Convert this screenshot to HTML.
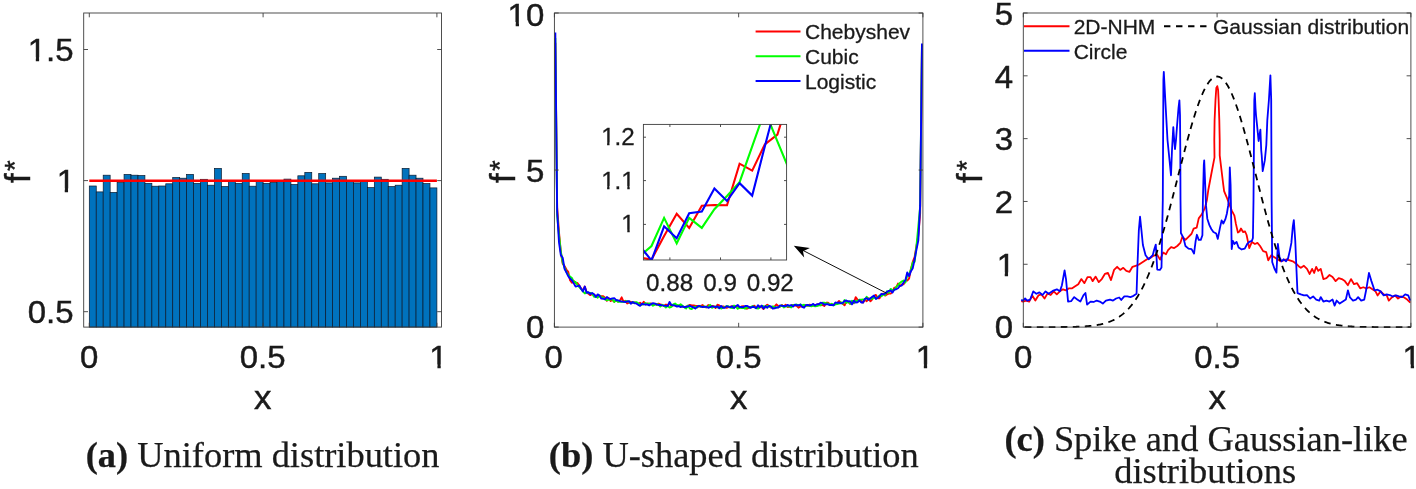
<!DOCTYPE html>
<html><head><meta charset="utf-8"><title>Distributions</title>
<style>html,body{margin:0;padding:0;background:#fff;}svg{display:block;will-change:transform;}text{font-kerning:normal;}</style>
</head><body>
<svg width="1416" height="489" viewBox="0 0 1416 489">
<rect x="0" y="0" width="1416" height="489" fill="#ffffff"/>
<g fill="#0072bd" stroke="#0a1a2e" stroke-width="0.7" stroke-linejoin="miter">
<rect x="89.3" y="186" width="6.95" height="141.1"/>
<rect x="96.25" y="191.9" width="6.95" height="135.2"/>
<rect x="103.2" y="175.2" width="6.95" height="151.9"/>
<rect x="110.16" y="192.4" width="6.95" height="134.7"/>
<rect x="117.11" y="182.6" width="6.95" height="144.5"/>
<rect x="124.06" y="174.4" width="6.95" height="152.7"/>
<rect x="131.01" y="175.2" width="6.95" height="151.9"/>
<rect x="137.96" y="175.5" width="6.95" height="151.6"/>
<rect x="144.92" y="183.3" width="6.95" height="143.8"/>
<rect x="151.87" y="186.2" width="6.95" height="140.9"/>
<rect x="158.82" y="186" width="6.95" height="141.1"/>
<rect x="165.77" y="183.8" width="6.95" height="143.3"/>
<rect x="172.72" y="177.5" width="6.95" height="149.6"/>
<rect x="179.68" y="178.2" width="6.95" height="148.9"/>
<rect x="186.63" y="174.4" width="6.95" height="152.7"/>
<rect x="193.58" y="183.3" width="6.95" height="143.8"/>
<rect x="200.53" y="179.3" width="6.95" height="147.8"/>
<rect x="207.48" y="185.2" width="6.95" height="141.9"/>
<rect x="214.44" y="168.4" width="6.95" height="158.7"/>
<rect x="221.39" y="186.5" width="6.95" height="140.6"/>
<rect x="228.34" y="181.5" width="6.95" height="145.6"/>
<rect x="235.29" y="183.3" width="6.95" height="143.8"/>
<rect x="242.24" y="173.5" width="6.95" height="153.6"/>
<rect x="249.2" y="186.2" width="6.95" height="140.9"/>
<rect x="256.15" y="181.5" width="6.95" height="145.6"/>
<rect x="263.1" y="183.3" width="6.95" height="143.8"/>
<rect x="270.05" y="182.5" width="6.95" height="144.6"/>
<rect x="277" y="181.5" width="6.95" height="145.6"/>
<rect x="283.96" y="179.1" width="6.95" height="148"/>
<rect x="290.91" y="184.5" width="6.95" height="142.6"/>
<rect x="297.86" y="175.8" width="6.95" height="151.3"/>
<rect x="304.81" y="172.4" width="6.95" height="154.7"/>
<rect x="311.76" y="183.8" width="6.95" height="143.3"/>
<rect x="318.72" y="173.5" width="6.95" height="153.6"/>
<rect x="325.67" y="182.9" width="6.95" height="144.2"/>
<rect x="332.62" y="178.2" width="6.95" height="148.9"/>
<rect x="339.57" y="176.3" width="6.95" height="150.8"/>
<rect x="346.52" y="181.5" width="6.95" height="145.6"/>
<rect x="353.48" y="182.9" width="6.95" height="144.2"/>
<rect x="360.43" y="181.5" width="6.95" height="145.6"/>
<rect x="367.38" y="187.6" width="6.95" height="139.5"/>
<rect x="374.33" y="177.1" width="6.95" height="150"/>
<rect x="381.28" y="179.3" width="6.95" height="147.8"/>
<rect x="388.24" y="186.5" width="6.95" height="140.6"/>
<rect x="395.19" y="185.2" width="6.95" height="141.9"/>
<rect x="402.14" y="168.4" width="6.95" height="158.7"/>
<rect x="409.09" y="175.2" width="6.95" height="151.9"/>
<rect x="416.04" y="178.2" width="6.95" height="148.9"/>
<rect x="423" y="183.6" width="6.95" height="143.5"/>
<rect x="429.95" y="187.9" width="6.95" height="139.2"/>
</g>
<line x1="89.3" y1="180.7" x2="436.9" y2="180.7" stroke="#ff0000" stroke-width="2.6"/>
<rect x="83.7" y="13" width="357.8" height="314.1" fill="none" stroke="#3c3c3c" stroke-width="0.9"/>
<path d="M89.3 327.1v-4.3M89.3 13v4.3M263.1 327.1v-4.3M263.1 13v4.3M436.9 327.1v-4.3M436.9 13v4.3M83.7 49.5h4.3M441.5 49.5h-4.3M83.7 180.6h4.3M441.5 180.6h-4.3M83.7 311.7h4.3M441.5 311.7h-4.3" stroke="#3c3c3c" stroke-width="0.9" fill="none"/>
<text x="0" y="0" font-size="31.6" text-anchor="end" font-family='"Liberation Sans", sans-serif' fill="#1a1a1a" stroke="#1a1a1a" stroke-width="0.45"  transform="translate(73.6 60.8) scale(1.045 1)">1.5</text>
<g fill="#ffffff"><rect x="28.66" y="57.33" width="7.14" height="5.79"/><rect x="39.11" y="57.33" width="6.88" height="5.79"/></g>
<text x="0" y="0" font-size="31.6" text-anchor="end" font-family='"Liberation Sans", sans-serif' fill="#1a1a1a" stroke="#1a1a1a" stroke-width="0.45"  transform="translate(73.6 323) scale(1.045 1)">0.5</text>
<text x="0" y="0" font-size="31.6" text-anchor="end" font-family='"Liberation Sans", sans-serif' fill="#1a1a1a" stroke="#1a1a1a" stroke-width="0.45"  transform="translate(75 191.9) scale(1.045 1)">1</text>
<g fill="#ffffff"><rect x="57.6" y="188.43" width="7.14" height="5.79"/><rect x="68.05" y="188.43" width="6.88" height="5.79"/></g>
<text x="0" y="0" font-size="31.6" text-anchor="middle" font-family='"Liberation Sans", sans-serif' fill="#1a1a1a" stroke="#1a1a1a" stroke-width="0.45"  transform="translate(89.3 367.9) scale(1.045 1)">0</text>
<text x="0" y="0" font-size="31.6" text-anchor="middle" font-family='"Liberation Sans", sans-serif' fill="#1a1a1a" stroke="#1a1a1a" stroke-width="0.45"  transform="translate(262.6 367.9) scale(1.045 1)">0.5</text>
<text x="0" y="0" font-size="31.6" text-anchor="middle" font-family='"Liberation Sans", sans-serif' fill="#1a1a1a" stroke="#1a1a1a" stroke-width="0.45"  transform="translate(438.5 367.9) scale(1.045 1)">1</text>
<g fill="#ffffff"><rect x="430.28" y="364.43" width="7.14" height="5.79"/><rect x="440.73" y="364.43" width="6.88" height="5.79"/></g>
<text x="0" y="0" font-size="32.6" text-anchor="middle" font-family='"Liberation Sans", sans-serif' fill="#1a1a1a" stroke="#1a1a1a" stroke-width="0.45"  transform="translate(262.6 409) scale(1.070 1)">x</text>
<text transform="translate(30.3 171.7) rotate(-90)" font-size="34.6" text-anchor="middle" font-family='"Liberation Sans", sans-serif' fill="#1a1a1a" stroke="#1a1a1a" stroke-width="0.45">f<tspan font-size="27.5" dx="2.4" dy="-6.0">*</tspan></text>
<g fill="none" stroke-width="1.9" stroke-linejoin="round" stroke-linecap="butt">
<polyline stroke="#ff0000" points="555.32,42.84 557.16,207.53 559.01,232.61 560.85,252.42 562.69,263.62 564.53,266.08 566.38,269.46 568.22,271.84 570.06,280.23 571.9,282.82 573.75,280.84 575.59,283.23 577.43,282.94 579.27,285.48 581.12,288.72 582.96,290.16 584.8,286.55 586.64,292.17 588.49,293.81 590.33,295.12 592.17,293.99 594.01,294.61 595.86,295.95 597.7,296.14 599.54,296.23 601.38,296.19 603.23,296.15 605.07,297.79 606.91,300.8 608.75,298.01 610.6,301.07 612.44,299.86 614.28,301.79 616.12,300.32 617.97,301.56 619.81,300.68 621.65,297.37 623.49,301.54 625.34,300.78 627.18,303.48 629.02,302.54 630.86,301.71 632.71,302.76 634.55,302.46 636.39,302.95 638.23,304.33 640.08,302.83 641.92,304.46 643.76,301.81 645.6,304.46 647.45,303.38 649.29,304.23 651.13,303.4 652.97,305.13 654.82,303.64 656.66,304.9 658.5,303.63 660.34,304.39 662.19,304.98 664.03,306 665.87,304.58 667.71,304.98 669.56,303.94 671.4,305.99 673.24,305.18 675.08,305.31 676.93,305.61 678.77,305.76 680.61,305.86 682.45,306.67 684.3,307.13 686.14,306.61 687.98,305.75 689.82,304.95 691.67,305.51 693.51,305.5 695.35,305.81 697.19,305.93 699.04,306.46 700.88,305.96 702.72,305.09 704.56,307.05 706.41,307.42 708.25,305.04 710.09,306.64 711.93,306.01 713.78,306.13 715.62,307.98 717.46,304.77 719.3,305.39 721.15,306.85 722.99,306.35 724.83,306.93 726.67,307.86 728.52,307.17 730.36,306.75 732.2,306.09 734.04,306.46 735.89,307.05 737.73,305.88 739.57,307.79 741.41,306.39 743.26,306.1 745.1,307.35 746.94,308.7 748.78,307.89 750.63,306.85 752.47,306.57 754.31,305.63 756.15,307.92 758,306.99 759.84,306.38 761.68,307.09 763.52,309.07 765.37,306.16 767.21,304.75 769.05,305.91 770.89,307.63 772.74,307.13 774.58,306.51 776.42,304.38 778.26,306.06 780.11,306.47 781.95,305.09 783.79,306.55 785.63,304.69 787.48,307 789.32,306.75 791.16,305.56 793,304.83 794.85,305.49 796.69,305.75 798.53,307.69 800.37,306.56 802.22,306.38 804.06,306.22 805.9,305.05 807.74,305.85 809.59,304.67 811.43,305.25 813.27,305.56 815.11,305 816.96,304.58 818.8,304.03 820.64,305.25 822.48,304.88 824.33,305.9 826.17,302.74 828.01,302.74 829.85,304.27 831.7,304.43 833.54,305.07 835.38,303.43 837.22,303.21 839.07,300.91 840.91,302.79 842.75,303.71 844.59,305.35 846.44,300.88 848.28,302.01 850.12,303.8 851.96,301.53 853.81,303.34 855.65,297.16 857.49,299.62 859.33,299.95 861.18,300.54 863.02,302.61 864.86,299.81 866.7,301.23 868.55,298.15 870.39,301.25 872.23,299.25 874.07,295.99 875.92,294.9 877.76,298.22 879.6,298.19 881.44,294.2 883.29,293.58 885.13,295.6 886.97,294.45 888.81,293.67 890.66,293.61 892.5,291.87 894.34,287.6 896.18,287.34 898.03,283.55 899.87,285.95 901.71,284.4 903.55,284.24 905.4,280.34 907.24,280.45 909.08,278.66 910.92,268.91 912.77,261.93 914.61,257.04 916.45,246.07 918.29,235.63 920.14,213.33 921.98,45.98"/>
<polyline stroke="#00ff00" points="555.32,38.13 557.16,215.39 559.01,235.33 560.85,251.56 562.69,262.25 564.53,267.48 566.38,271.99 568.22,274.68 570.06,276.65 571.9,277.94 573.75,281.86 575.59,282.05 577.43,285.01 579.27,287.12 581.12,288.99 582.96,291.41 584.8,293.41 586.64,291.92 588.49,292.93 590.33,292.99 592.17,293.73 594.01,296.72 595.86,296.54 597.7,297.68 599.54,295.32 601.38,297.36 603.23,297.53 605.07,299.32 606.91,300.2 608.75,299.72 610.6,299.5 612.44,299.17 614.28,301.91 616.12,300.01 617.97,301.73 619.81,301.62 621.65,301.68 623.49,302.05 625.34,301.3 627.18,301.09 629.02,301.92 630.86,303.11 632.71,302.28 634.55,302.54 636.39,302.22 638.23,303.04 640.08,305.2 641.92,304.47 643.76,304.26 645.6,303.06 647.45,304.3 649.29,303.38 651.13,304.15 652.97,305.78 654.82,304.67 656.66,304.29 658.5,304.56 660.34,306.53 662.19,304.78 664.03,305.87 665.87,307.44 667.71,306.05 669.56,307.48 671.4,306.9 673.24,304.41 675.08,303.54 676.93,304.95 678.77,305.62 680.61,304.32 682.45,305.85 684.3,307.15 686.14,308.58 687.98,305.53 689.82,308.5 691.67,309.11 693.51,307.14 695.35,306.53 697.19,307.43 699.04,305.74 700.88,306.81 702.72,306.59 704.56,306.41 706.41,307.38 708.25,306.7 710.09,304.82 711.93,307.79 713.78,306.83 715.62,306.53 717.46,307.51 719.3,307.09 721.15,308.61 722.99,307.48 724.83,307.07 726.67,306.12 728.52,306.28 730.36,307.65 732.2,308.14 734.04,305.51 735.89,306.36 737.73,308.86 739.57,307.46 741.41,307.96 743.26,307.69 745.1,308.68 746.94,307.51 748.78,307.58 750.63,307.32 752.47,306.16 754.31,306.87 756.15,308.16 758,308.6 759.84,307.49 761.68,305.95 763.52,306.11 765.37,307.47 767.21,305.85 769.05,306.47 770.89,307.38 772.74,306.4 774.58,306.82 776.42,307.73 778.26,307.06 780.11,306.47 781.95,305.35 783.79,307.47 785.63,306.23 787.48,306.38 789.32,306.38 791.16,307.42 793,305.02 794.85,304.91 796.69,304.55 798.53,305.54 800.37,304.49 802.22,305.31 804.06,304.78 805.9,305.97 807.74,305.34 809.59,305.78 811.43,306.4 813.27,305.69 815.11,306.26 816.96,306.15 818.8,305.31 820.64,305.41 822.48,302.58 824.33,302.73 826.17,303.3 828.01,303.44 829.85,305.01 831.7,303.67 833.54,305.32 835.38,304.3 837.22,303.97 839.07,303.67 840.91,302.15 842.75,303.75 844.59,300.02 846.44,303.04 848.28,301.29 850.12,303.81 851.96,300.72 853.81,302.93 855.65,301.01 857.49,300.97 859.33,299.68 861.18,299.61 863.02,299.54 864.86,299.86 866.7,296.85 868.55,299.52 870.39,298.51 872.23,298.71 874.07,297.45 875.92,298.46 877.76,297.2 879.6,295.37 881.44,296.31 883.29,294.17 885.13,295.04 886.97,291.25 888.81,292.83 890.66,288.93 892.5,289.97 894.34,289.96 896.18,286.91 898.03,285.17 899.87,282.97 901.71,281.47 903.55,280.48 905.4,282.61 907.24,275.47 909.08,274.7 910.92,269.69 912.77,262.44 914.61,261.83 916.45,246.11 918.29,226.91 920.14,206.67 921.98,44.41"/>
<polyline stroke="#0000ff" points="555.32,32.47 557.16,211.64 559.01,242.43 560.85,255.11 562.69,257.73 564.53,268.76 566.38,272.33 568.22,276.11 570.06,278.57 571.9,280.26 573.75,283.38 575.59,286.53 577.43,286.15 579.27,285.53 581.12,288.7 582.96,291.52 584.8,286.54 586.64,292.78 588.49,292.23 590.33,293.96 592.17,293.04 594.01,294.27 595.86,296.89 597.7,294.38 599.54,295.78 601.38,298.66 603.23,298.72 605.07,299.37 606.91,296.96 608.75,298.57 610.6,298.99 612.44,298.4 614.28,298.22 616.12,300.23 617.97,300.26 619.81,301.17 621.65,301.44 623.49,301.6 625.34,302.14 627.18,301.45 629.02,301.06 630.86,303.82 632.71,302.05 634.55,303.33 636.39,303.39 638.23,304.88 640.08,305.8 641.92,303.76 643.76,304.38 645.6,304.53 647.45,304.33 649.29,305.39 651.13,304.05 652.97,303.14 654.82,303.59 656.66,304.44 658.5,304.96 660.34,305.03 662.19,305.37 664.03,305.57 665.87,305.86 667.71,306.15 669.56,301.88 671.4,304.94 673.24,305.19 675.08,305.58 676.93,306.59 678.77,305.98 680.61,307.09 682.45,306.31 684.3,307.22 686.14,306.78 687.98,306.48 689.82,305.74 691.67,306.76 693.51,307.4 695.35,308.57 697.19,306.84 699.04,305.88 700.88,306.63 702.72,306.99 704.56,306.87 706.41,306.77 708.25,307.75 710.09,307.1 711.93,306.34 713.78,306.64 715.62,307 717.46,306.36 719.3,308.27 721.15,305.89 722.99,307.87 724.83,307.7 726.67,306.13 728.52,306.84 730.36,307.21 732.2,306.3 734.04,308.19 735.89,306.33 737.73,304.89 739.57,307.13 741.41,307.02 743.26,307.22 745.1,306.01 746.94,305.9 748.78,306.86 750.63,307.82 752.47,306.77 754.31,306.99 756.15,308.27 758,305.21 759.84,307.37 761.68,305.6 763.52,308.54 765.37,306.27 767.21,307.71 769.05,305.92 770.89,306.38 772.74,308.52 774.58,308.37 776.42,307.35 778.26,307.62 780.11,305.43 781.95,305.83 783.79,305.97 785.63,306.3 787.48,304.9 789.32,305.89 791.16,305.06 793,306.63 794.85,304.78 796.69,305.22 798.53,305.27 800.37,304.54 802.22,306.83 804.06,307.78 805.9,305.26 807.74,304.92 809.59,305.6 811.43,304.98 813.27,303.94 815.11,305.59 816.96,304.12 818.8,304.19 820.64,302.67 822.48,303.13 824.33,304.56 826.17,304.32 828.01,304.29 829.85,305.01 831.7,305.01 833.54,305.25 835.38,302.42 837.22,302.82 839.07,302.52 840.91,303.3 842.75,302.86 844.59,301.01 846.44,300.52 848.28,301.48 850.12,301.11 851.96,304.36 853.81,300.72 855.65,302.54 857.49,302.35 859.33,300.27 861.18,302.49 863.02,302.52 864.86,298.82 866.7,298.09 868.55,299.81 870.39,298.2 872.23,296.89 874.07,295.62 875.92,298.9 877.76,297.67 879.6,296.12 881.44,293.83 883.29,294.37 885.13,293.42 886.97,291.94 888.81,290.9 890.66,290.52 892.5,292.5 894.34,289.57 896.18,289.23 898.03,288.22 899.87,285.9 901.71,285.59 903.55,282.5 905.4,280.19 907.24,272.52 909.08,276.13 910.92,271.24 912.77,268.15 914.61,259.43 916.45,249.69 918.29,240.59 920.14,205.64 921.98,43.47"/>
</g>
<rect x="554.4" y="13" width="368.5" height="314.1" fill="none" stroke="#3c3c3c" stroke-width="0.9"/>
<path d="M554.4 327.1v-4.3M554.4 13v4.3M738.65 327.1v-4.3M738.65 13v4.3M922.9 327.1v-4.3M922.9 13v4.3M554.4 327.1h4.3M922.9 327.1h-4.3M554.4 170.05h4.3M922.9 170.05h-4.3M554.4 13h4.3M922.9 13h-4.3" stroke="#3c3c3c" stroke-width="0.9" fill="none"/>
<text x="0" y="0" font-size="31.6" text-anchor="end" font-family='"Liberation Sans", sans-serif' fill="#1a1a1a" stroke="#1a1a1a" stroke-width="0.45"  transform="translate(544.3 25.5) scale(1.045 1)">10</text>
<g fill="#ffffff"><rect x="508.54" y="22.03" width="7.14" height="5.79"/><rect x="518.99" y="22.03" width="6.88" height="5.79"/></g>
<text x="0" y="0" font-size="31.6" text-anchor="end" font-family='"Liberation Sans", sans-serif' fill="#1a1a1a" stroke="#1a1a1a" stroke-width="0.45"  transform="translate(544.3 182.35) scale(1.045 1)">5</text>
<text x="0" y="0" font-size="31.6" text-anchor="end" font-family='"Liberation Sans", sans-serif' fill="#1a1a1a" stroke="#1a1a1a" stroke-width="0.45"  transform="translate(544.3 338.2) scale(1.045 1)">0</text>
<text x="0" y="0" font-size="31.6" text-anchor="middle" font-family='"Liberation Sans", sans-serif' fill="#1a1a1a" stroke="#1a1a1a" stroke-width="0.45"  transform="translate(553.6 367.9) scale(1.045 1)">0</text>
<text x="0" y="0" font-size="31.6" text-anchor="middle" font-family='"Liberation Sans", sans-serif' fill="#1a1a1a" stroke="#1a1a1a" stroke-width="0.45"  transform="translate(738.65 367.9) scale(1.045 1)">0.5</text>
<text x="0" y="0" font-size="31.6" text-anchor="middle" font-family='"Liberation Sans", sans-serif' fill="#1a1a1a" stroke="#1a1a1a" stroke-width="0.45"  transform="translate(924.9 367.9) scale(1.045 1)">1</text>
<g fill="#ffffff"><rect x="916.68" y="364.43" width="7.14" height="5.79"/><rect x="927.13" y="364.43" width="6.88" height="5.79"/></g>
<text x="0" y="0" font-size="32.6" text-anchor="middle" font-family='"Liberation Sans", sans-serif' fill="#1a1a1a" stroke="#1a1a1a" stroke-width="0.45"  transform="translate(738.65 409) scale(1.070 1)">x</text>
<text transform="translate(515 171.7) rotate(-90)" font-size="34.6" text-anchor="middle" font-family='"Liberation Sans", sans-serif' fill="#1a1a1a" stroke="#1a1a1a" stroke-width="0.45">f<tspan font-size="27.5" dx="2.4" dy="-6.0">*</tspan></text>
<g stroke-width="2" fill="none">
<line x1="755.6" y1="31.4" x2="800.5" y2="31.4" stroke="#ff0000"/>
<line x1="755.6" y1="56.2" x2="800.5" y2="56.2" stroke="#00ff00"/>
<line x1="755.6" y1="81" x2="800.5" y2="81" stroke="#0000ff"/>
</g>
<text x="805" y="39.1" font-size="21" text-anchor="start" font-family='"Liberation Sans", sans-serif' fill="#1a1a1a" stroke="#1a1a1a" stroke-width="0.3" >Chebyshev</text>
<text x="805" y="63.9" font-size="21" text-anchor="start" font-family='"Liberation Sans", sans-serif' fill="#1a1a1a" stroke="#1a1a1a" stroke-width="0.3" >Cubic</text>
<text x="805" y="88.7" font-size="21" text-anchor="start" font-family='"Liberation Sans", sans-serif' fill="#1a1a1a" stroke="#1a1a1a" stroke-width="0.3" >Logistic</text>
<rect x="643.4" y="124.4" width="143.2" height="135.6" fill="#ffffff" stroke="none"/>
<clipPath id="ic"><rect x="643.4" y="124.4" width="143.2" height="135.6"/></clipPath>
<g clip-path="url(#ic)" fill="none" stroke-width="2.1" stroke-linejoin="miter">
<polyline stroke="#ff0000" points="638.9,257.5 651.5,259.6 664.1,236 676.7,213.8 689.2,227.9 701.8,205.8 714.4,205 727,205.3 739.6,163.7 752.2,170.6 764.8,144.5 777.4,134.6 790,93.8"/>
<polyline stroke="#00ff00" points="638.9,257 651.5,246 664.1,217.9 676.7,243.4 689.2,217.9 701.8,227.9 714.4,209.2 727,196 739.6,182.1 752.2,146.4 764.8,110.8 777.4,141.3 790,171.8"/>
<polyline stroke="#0000ff" points="638.9,245 651.5,260.4 664.1,226.3 676.7,238.3 689.2,213.3 701.8,211.5 714.4,188.4 727,201 739.6,183.2 752.2,195.6 764.8,146.4 777.4,98.5"/>
</g>
<rect x="643.4" y="124.4" width="143.2" height="135.6" fill="none" stroke="#3c3c3c" stroke-width="0.9"/>
<path d="M669.9 260v-2.6M669.9 124.4v2.6M720.5 260v-2.6M720.5 124.4v2.6M770.9 260v-2.6M770.9 124.4v2.6M643.4 137.2h2.6M786.6 137.2h-2.6M643.4 180.6h2.6M786.6 180.6h-2.6M643.4 224.4h2.6M786.6 224.4h-2.6" stroke="#3c3c3c" stroke-width="0.9" fill="none"/>
<text x="634.8" y="145.2" font-size="24.2" text-anchor="end" font-family='"Liberation Sans", sans-serif' fill="#1a1a1a" stroke="#1a1a1a" stroke-width="0.3" >1.2</text>
<g fill="#ffffff"><rect x="601.87" y="142.54" width="5.23" height="4.43"/><rect x="609.52" y="142.54" width="5.05" height="4.43"/></g>
<text x="634.8" y="188.6" font-size="24.2" text-anchor="end" font-family='"Liberation Sans", sans-serif' fill="#1a1a1a" stroke="#1a1a1a" stroke-width="0.3" >1.1</text>
<g fill="#ffffff"><rect x="601.87" y="185.94" width="5.23" height="4.43"/><rect x="609.52" y="185.94" width="5.05" height="4.43"/><rect x="622.05" y="185.94" width="5.23" height="4.43"/><rect x="629.71" y="185.94" width="5.05" height="4.43"/></g>
<text x="634.8" y="232.4" font-size="24.2" text-anchor="end" font-family='"Liberation Sans", sans-serif' fill="#1a1a1a" stroke="#1a1a1a" stroke-width="0.3" >1</text>
<g fill="#ffffff"><rect x="622.05" y="229.74" width="5.23" height="4.43"/><rect x="629.71" y="229.74" width="5.05" height="4.43"/></g>
<text x="669.6" y="290.6" font-size="24.2" text-anchor="middle" font-family='"Liberation Sans", sans-serif' fill="#1a1a1a" stroke="#1a1a1a" stroke-width="0.3" >0.88</text>
<text x="720.1" y="290.6" font-size="24.2" text-anchor="middle" font-family='"Liberation Sans", sans-serif' fill="#1a1a1a" stroke="#1a1a1a" stroke-width="0.3" >0.9</text>
<text x="770.3" y="290.6" font-size="24.2" text-anchor="middle" font-family='"Liberation Sans", sans-serif' fill="#1a1a1a" stroke="#1a1a1a" stroke-width="0.3" >0.92</text>
<line x1="886.6" y1="293.2" x2="800" y2="248.9" stroke="#000" stroke-width="0.95"/>
<path d="M793.8 245.8L809.9 248.1L803 251.2L804.2 257.6Z" fill="#000"/>
<g fill="none" stroke-linejoin="round">
<polyline stroke="#ff0000" stroke-width="1.8" points="1021.23,301.17 1023.07,301.57 1026.13,300.55 1029.2,301.57 1032.27,295.44 1035.34,300.55 1038.4,295.44 1041.47,294.42 1044.54,298.51 1047.61,293.39 1050.67,295.03 1053.74,291.35 1056.81,294.42 1059.88,291.35 1062.94,289.3 1066.01,290.33 1069.08,288.28 1072.15,288.28 1075.21,286.24 1078.28,284.19 1081.35,279.08 1084.42,283.17 1087.48,277.03 1090.55,277.03 1092.6,281.12 1095.66,276.63 1098.73,282.15 1101.8,279.08 1104.87,273.97 1107.93,272.94 1111,280.1 1114.07,269.88 1117.14,266.81 1120.2,269.88 1123.27,267.83 1126.34,270.9 1129.41,271.92 1132.47,266.81 1135.54,265.79 1138.61,264.76 1141.68,262.72 1144.74,260.67 1147.81,258.63 1150.88,257.61 1153.95,255.56 1157.01,254.54 1160.08,259.65 1163.15,252.49 1166.01,254.19 1168.06,250.1 1171.12,247.03 1174.19,248.06 1177.26,246.01 1180.33,242.94 1182.37,236.81 1185.44,239.88 1188.51,236.81 1191.57,233.74 1193.62,228.63 1196.69,227.61 1198.73,218.4 1201.8,214.31 1204.87,208.18 1206.91,200 1208.3,190 1211.5,173 1214.5,157.4 1214.3,140 1214.6,120 1215.5,100 1216.3,88 1217.3,86.1 1218.1,90 1218.6,100 1219.3,120 1219.7,140 1219.7,155.3 1223.3,185 1224.1,191.1 1226.7,197.3 1229.8,205.4 1231.8,210.6 1234.4,215.7 1235.9,223.9 1237.9,232.5 1239.5,231.5 1241,228.5 1243,232 1245.1,231.5 1246.6,235 1247.81,240.9 1249.24,248.06 1251.9,241.92 1254.97,243.97 1257.42,242.94 1260.08,246.01 1263.15,251.12 1266.22,252.15 1268.26,260.33 1271.33,255.21 1274.4,257.26 1277.46,259.3 1280.53,261.35 1283.6,260.33 1286.67,259.3 1289.73,260.33 1292.8,261.35 1295.87,263.39 1298.94,266.46 1300.87,267.83 1303.93,265.79 1307,268.85 1309.66,273.97 1312.11,268.85 1314.16,272.94 1316.2,266.81 1318.25,270.9 1320.7,268.85 1323.36,279.08 1326.43,278.06 1329.5,274.99 1332.56,277.03 1335.63,281.12 1338.7,278.06 1341.77,279.08 1344.83,281.12 1347.9,285.21 1350.97,279.08 1354.04,284.19 1357.1,283.17 1360.17,288.28 1363.24,287.26 1366.31,288.28 1369.37,287.26 1372.44,289.3 1375.51,291.35 1377.55,295.44 1380.62,291.35 1383.69,294.42 1386.76,295.44 1388.8,300.55 1391.87,297.48 1394.94,295.44 1398,298.51 1401.07,296.46 1404.14,297.48 1407.21,299.53 1410.27,302.6"/>
<polyline stroke="#0000ff" stroke-width="1.8" points="1021.23,299.94 1023.07,300.55 1025.11,298.51 1027.16,300.55 1030.22,299.53 1033.29,291.35 1036.36,293.8 1039.43,292.37 1042.49,295.03 1045.56,291.35 1048.63,293.8 1052.72,290.94 1056.81,289.3 1059.88,291.35 1061.92,285.21 1064.58,270.49 1066.01,279.08 1068.06,301.57 1071.12,301.17 1074.19,297.08 1077.26,299.53 1080.33,301.57 1083.39,295.44 1085.44,292.99 1087.08,304.64 1090.55,301.57 1093.62,301.98 1096.69,300.55 1099.75,301.57 1102.82,303.62 1105.89,300.55 1109.98,299.53 1113.05,300.55 1116.11,298.51 1119.18,297.48 1121.23,299.94 1124.29,296.46 1127.36,296.46 1130.43,297.08 1133.5,295.85 1136.56,293.8 1137.38,267.48 1138.81,230.67 1140.04,216.77 1141.47,230.67 1142.9,244.99 1145.56,255.21 1148.63,259.3 1150.67,257.26 1152.72,255.21 1154.36,249.08 1155.79,244.58 1157.22,269.53 1159.88,269.94 1161.51,267.48 1162.8,200 1163.4,80 1163.8,71.8 1165.3,100 1166.4,120 1167.5,140 1169,155 1171,175.3 1172,150 1173.3,127.1 1174.2,140 1175,149.2 1176,140 1177.1,125 1178.5,108 1179.4,100.4 1180,115 1180.3,150 1180.5,200 1180.9,233 1183.39,237.83 1185.44,246.01 1188.51,248.67 1191.57,249.08 1194.03,253.58 1195.66,240.9 1196.89,234.76 1198.73,239.88 1200.78,239.88 1202.41,235.17 1202.9,200 1203.8,165 1204.2,160.4 1204.7,172 1205.2,185 1206,205.4 1207.3,218.7 1209.3,224.9 1211.3,229 1213.4,232 1216.2,233.5 1217.8,238.9 1219.8,228.6 1221.6,220.4 1223.3,223.5 1225.3,219.4 1226.9,213.5 1228.2,205.4 1229.2,195.2 1229.8,167.4 1230.6,185 1231.3,225 1231.7,249.1 1232.88,240.9 1234.52,243.97 1236.56,241.92 1238.61,247.44 1241.68,249.49 1244.74,248.67 1247.2,243.97 1249.24,241.92 1251.9,240.9 1252.92,238.04 1253.5,200 1254.3,100 1254.8,93.2 1255.5,108 1256,115 1257.1,125.6 1258.6,141 1259.5,135 1260.4,129.7 1261.2,150 1261.7,155.3 1262.7,171.2 1264.8,160.4 1266.3,145.1 1267.3,120.4 1268.9,100 1270.4,75.3 1271.2,100 1271.6,200 1272.2,262 1274.4,268.51 1276.44,272.6 1277.87,243.97 1279.51,257.26 1281.55,261.35 1283.6,259.3 1286.05,261.35 1288.1,258.28 1289.73,251.12 1291.37,242.94 1292.8,226.58 1293.82,220.04 1295.26,240.9 1296.28,265.44 1297.51,293.05 1300.87,294.42 1303.93,295.44 1307,295.03 1310.07,298.51 1313.14,296.46 1316.2,299.53 1319.27,300.55 1320.7,297.08 1323.36,301.57 1326.43,300.55 1329.5,301.57 1332.56,299.53 1334.61,305.66 1336.65,300.55 1339.72,303.62 1342.79,301.57 1345.86,299.53 1347.9,290.33 1349.95,297.48 1353.01,300.55 1356.08,299.53 1358.13,297.08 1361.19,300.55 1364.26,299.53 1366.31,289.3 1368.97,272.94 1371.42,281.12 1374.49,290.33 1377.55,289.71 1380.62,291.35 1383.69,295.44 1386.76,294.42 1389.82,295.03 1392.89,296.46 1395.96,295.44 1399.03,296.46 1402.09,297.08 1405.16,294.42 1408.23,295.44 1410.27,300.55"/>
<polyline stroke="#000000" stroke-width="1.8" stroke-dasharray="6.6 5.4" stroke-dashoffset="-1.5" points="1023.3,327.1 1024.27,327.1 1025.24,327.1 1026.21,327.1 1027.18,327.1 1028.14,327.1 1029.11,327.1 1030.08,327.1 1031.05,327.1 1032.02,327.1 1032.99,327.1 1033.96,327.1 1034.93,327.1 1035.9,327.1 1036.87,327.09 1037.84,327.09 1038.8,327.09 1039.77,327.09 1040.74,327.09 1041.71,327.09 1042.68,327.09 1043.65,327.09 1044.62,327.09 1045.59,327.09 1046.56,327.08 1047.52,327.08 1048.49,327.08 1049.46,327.08 1050.43,327.08 1051.4,327.07 1052.37,327.07 1053.34,327.07 1054.31,327.06 1055.28,327.06 1056.25,327.05 1057.21,327.05 1058.18,327.04 1059.15,327.04 1060.12,327.03 1061.09,327.02 1062.06,327.02 1063.03,327.01 1064,327 1064.97,326.99 1065.94,326.98 1066.9,326.96 1067.87,326.95 1068.84,326.93 1069.81,326.92 1070.78,326.9 1071.75,326.88 1072.72,326.86 1073.69,326.83 1074.66,326.81 1075.63,326.78 1076.6,326.75 1077.56,326.72 1078.53,326.68 1079.5,326.64 1080.47,326.6 1081.44,326.55 1082.41,326.5 1083.38,326.45 1084.35,326.39 1085.32,326.33 1086.29,326.26 1087.25,326.18 1088.22,326.1 1089.19,326.02 1090.16,325.93 1091.13,325.83 1092.1,325.72 1093.07,325.6 1094.04,325.48 1095.01,325.34 1095.97,325.2 1096.94,325.05 1097.91,324.88 1098.88,324.71 1099.85,324.52 1100.82,324.32 1101.79,324.1 1102.76,323.87 1103.73,323.62 1104.7,323.36 1105.66,323.08 1106.63,322.78 1107.6,322.47 1108.57,322.13 1109.54,321.77 1110.51,321.39 1111.48,320.98 1112.45,320.55 1113.42,320.1 1114.39,319.62 1115.36,319.11 1116.32,318.57 1117.29,318 1118.26,317.39 1119.23,316.76 1120.2,316.09 1121.17,315.38 1122.14,314.64 1123.11,313.86 1124.08,313.03 1125.05,312.17 1126.01,311.26 1126.98,310.3 1127.95,309.3 1128.92,308.26 1129.89,307.16 1130.86,306.01 1131.83,304.81 1132.8,303.56 1133.77,302.25 1134.73,300.89 1135.7,299.47 1136.67,297.99 1137.64,296.45 1138.61,294.85 1139.58,293.18 1140.55,291.46 1141.52,289.66 1142.49,287.8 1143.46,285.88 1144.42,283.89 1145.39,281.83 1146.36,279.7 1147.33,277.5 1148.3,275.24 1149.27,272.9 1150.24,270.49 1151.21,268.02 1152.18,265.47 1153.15,262.86 1154.12,260.17 1155.08,257.42 1156.05,254.6 1157.02,251.71 1157.99,248.76 1158.96,245.74 1159.93,242.65 1160.9,239.51 1161.87,236.3 1162.84,233.04 1163.81,229.72 1164.77,226.35 1165.74,222.92 1166.71,219.45 1167.68,215.92 1168.65,212.36 1169.62,208.75 1170.59,205.11 1171.56,201.44 1172.53,197.73 1173.49,194 1174.46,190.25 1175.43,186.47 1176.4,182.69 1177.37,178.89 1178.34,175.09 1179.31,171.29 1180.28,167.5 1181.25,163.72 1182.22,159.95 1183.18,156.2 1184.15,152.47 1185.12,148.78 1186.09,145.12 1187.06,141.5 1188.03,137.93 1189,134.41 1189.97,130.94 1190.94,127.54 1191.91,124.21 1192.88,120.95 1193.84,117.77 1194.81,114.67 1195.78,111.66 1196.75,108.75 1197.72,105.93 1198.69,103.22 1199.66,100.62 1200.63,98.13 1201.6,95.75 1202.57,93.5 1203.53,91.37 1204.5,89.38 1205.47,87.51 1206.44,85.78 1207.41,84.2 1208.38,82.75 1209.35,81.45 1210.32,80.29 1211.29,79.29 1212.26,78.43 1213.22,77.73 1214.19,77.19 1215.16,76.8 1216.13,76.56 1217.1,76.48 1218.07,76.56 1219.04,76.8 1220.01,77.19 1220.98,77.73 1221.94,78.43 1222.91,79.29 1223.88,80.29 1224.85,81.45 1225.82,82.75 1226.79,84.2 1227.76,85.78 1228.73,87.51 1229.7,89.38 1230.67,91.37 1231.63,93.5 1232.6,95.75 1233.57,98.13 1234.54,100.62 1235.51,103.22 1236.48,105.93 1237.45,108.75 1238.42,111.66 1239.39,114.67 1240.36,117.77 1241.33,120.95 1242.29,124.21 1243.26,127.54 1244.23,130.94 1245.2,134.41 1246.17,137.93 1247.14,141.5 1248.11,145.12 1249.08,148.78 1250.05,152.47 1251.02,156.2 1251.98,159.95 1252.95,163.72 1253.92,167.5 1254.89,171.29 1255.86,175.09 1256.83,178.89 1257.8,182.69 1258.77,186.47 1259.74,190.25 1260.71,194 1261.67,197.73 1262.64,201.44 1263.61,205.11 1264.58,208.75 1265.55,212.36 1266.52,215.92 1267.49,219.45 1268.46,222.92 1269.43,226.35 1270.39,229.72 1271.36,233.04 1272.33,236.3 1273.3,239.51 1274.27,242.65 1275.24,245.74 1276.21,248.76 1277.18,251.71 1278.15,254.6 1279.12,257.42 1280.09,260.17 1281.05,262.86 1282.02,265.47 1282.99,268.02 1283.96,270.49 1284.93,272.9 1285.9,275.24 1286.87,277.5 1287.84,279.7 1288.81,281.83 1289.78,283.89 1290.74,285.88 1291.71,287.8 1292.68,289.66 1293.65,291.46 1294.62,293.18 1295.59,294.85 1296.56,296.45 1297.53,297.99 1298.5,299.47 1299.47,300.89 1300.43,302.25 1301.4,303.56 1302.37,304.81 1303.34,306.01 1304.31,307.16 1305.28,308.26 1306.25,309.3 1307.22,310.3 1308.19,311.26 1309.16,312.17 1310.12,313.03 1311.09,313.86 1312.06,314.64 1313.03,315.38 1314,316.09 1314.97,316.76 1315.94,317.39 1316.91,318 1317.88,318.57 1318.85,319.11 1319.81,319.62 1320.78,320.1 1321.75,320.55 1322.72,320.98 1323.69,321.39 1324.66,321.77 1325.63,322.13 1326.6,322.47 1327.57,322.78 1328.54,323.08 1329.5,323.36 1330.47,323.62 1331.44,323.87 1332.41,324.1 1333.38,324.32 1334.35,324.52 1335.32,324.71 1336.29,324.88 1337.26,325.05 1338.23,325.2 1339.19,325.34 1340.16,325.48 1341.13,325.6 1342.1,325.72 1343.07,325.83 1344.04,325.93 1345.01,326.02 1345.98,326.1 1346.95,326.18 1347.91,326.26 1348.88,326.33 1349.85,326.39 1350.82,326.45 1351.79,326.5 1352.76,326.55 1353.73,326.6 1354.7,326.64 1355.67,326.68 1356.64,326.72 1357.61,326.75 1358.57,326.78 1359.54,326.81 1360.51,326.83 1361.48,326.86 1362.45,326.88 1363.42,326.9 1364.39,326.92 1365.36,326.93 1366.33,326.95 1367.3,326.96 1368.26,326.98 1369.23,326.99 1370.2,327 1371.17,327.01 1372.14,327.02 1373.11,327.02 1374.08,327.03 1375.05,327.04 1376.02,327.04 1376.99,327.05 1377.95,327.05 1378.92,327.06 1379.89,327.06 1380.86,327.07 1381.83,327.07 1382.8,327.07 1383.77,327.08 1384.74,327.08 1385.71,327.08 1386.68,327.08 1387.64,327.08 1388.61,327.09 1389.58,327.09 1390.55,327.09 1391.52,327.09 1392.49,327.09 1393.46,327.09 1394.43,327.09 1395.4,327.09 1396.37,327.09 1397.33,327.09 1398.3,327.1 1399.27,327.1 1400.24,327.1 1401.21,327.1 1402.18,327.1 1403.15,327.1 1404.12,327.1 1405.09,327.1 1406.06,327.1 1407.02,327.1 1407.99,327.1 1408.96,327.1 1409.93,327.1 1410.9,327.1"/>
</g>
<rect x="1023.3" y="13" width="387.6" height="314.1" fill="none" stroke="#3c3c3c" stroke-width="0.9"/>
<path d="M1023.3 327.1v-4.3M1023.3 13v4.3M1217.1 327.1v-4.3M1217.1 13v4.3M1410.9 327.1v-4.3M1410.9 13v4.3M1023.3 327.1h4.3M1410.9 327.1h-4.3M1023.3 264.28h4.3M1410.9 264.28h-4.3M1023.3 201.46h4.3M1410.9 201.46h-4.3M1023.3 138.64h4.3M1410.9 138.64h-4.3M1023.3 75.82h4.3M1410.9 75.82h-4.3M1023.3 13h4.3M1410.9 13h-4.3" stroke="#3c3c3c" stroke-width="0.9" fill="none"/>
<text x="0" y="0" font-size="31.6" text-anchor="end" font-family='"Liberation Sans", sans-serif' fill="#1a1a1a" stroke="#1a1a1a" stroke-width="0.45"  transform="translate(1013.2 25.1) scale(1.045 1)">5</text>
<text x="0" y="0" font-size="31.6" text-anchor="end" font-family='"Liberation Sans", sans-serif' fill="#1a1a1a" stroke="#1a1a1a" stroke-width="0.45"  transform="translate(1013.2 87.72) scale(1.045 1)">4</text>
<text x="0" y="0" font-size="31.6" text-anchor="end" font-family='"Liberation Sans", sans-serif' fill="#1a1a1a" stroke="#1a1a1a" stroke-width="0.45"  transform="translate(1013.2 150.34) scale(1.045 1)">3</text>
<text x="0" y="0" font-size="31.6" text-anchor="end" font-family='"Liberation Sans", sans-serif' fill="#1a1a1a" stroke="#1a1a1a" stroke-width="0.45"  transform="translate(1013.2 213.16) scale(1.045 1)">2</text>
<text x="0" y="0" font-size="31.6" text-anchor="end" font-family='"Liberation Sans", sans-serif' fill="#1a1a1a" stroke="#1a1a1a" stroke-width="0.45"  transform="translate(1013.2 338.2) scale(1.045 1)">0</text>
<text x="0" y="0" font-size="31.6" text-anchor="end" font-family='"Liberation Sans", sans-serif' fill="#1a1a1a" stroke="#1a1a1a" stroke-width="0.45"  transform="translate(1015 275.88) scale(1.045 1)">1</text>
<g fill="#ffffff"><rect x="997.6" y="272.41" width="7.14" height="5.79"/><rect x="1008.05" y="272.41" width="6.88" height="5.79"/></g>
<text x="0" y="0" font-size="31.6" text-anchor="middle" font-family='"Liberation Sans", sans-serif' fill="#1a1a1a" stroke="#1a1a1a" stroke-width="0.45"  transform="translate(1023.3 367.9) scale(1.045 1)">0</text>
<text x="0" y="0" font-size="31.6" text-anchor="middle" font-family='"Liberation Sans", sans-serif' fill="#1a1a1a" stroke="#1a1a1a" stroke-width="0.45"  transform="translate(1217.1 367.9) scale(1.045 1)">0.5</text>
<text x="0" y="0" font-size="31.6" text-anchor="middle" font-family='"Liberation Sans", sans-serif' fill="#1a1a1a" stroke="#1a1a1a" stroke-width="0.45"  transform="translate(1411.8 367.9) scale(1.045 1)">1</text>
<g fill="#ffffff"><rect x="1403.58" y="364.43" width="7.14" height="5.79"/><rect x="1414.03" y="364.43" width="6.88" height="5.79"/></g>
<text x="0" y="0" font-size="32.6" text-anchor="middle" font-family='"Liberation Sans", sans-serif' fill="#1a1a1a" stroke="#1a1a1a" stroke-width="0.45"  transform="translate(1217.1 409) scale(1.070 1)">x</text>
<text transform="translate(982.3 171.7) rotate(-90)" font-size="34.6" text-anchor="middle" font-family='"Liberation Sans", sans-serif' fill="#1a1a1a" stroke="#1a1a1a" stroke-width="0.45">f<tspan font-size="27.5" dx="2.4" dy="-6.0">*</tspan></text>
<line x1="1024" y1="26.3" x2="1069.5" y2="26.3" stroke="#ff0000" stroke-width="2"/>
<line x1="1024" y1="50.8" x2="1069.5" y2="50.8" stroke="#0000ff" stroke-width="2"/>
<line x1="1164" y1="26.2" x2="1207" y2="26.2" stroke="#000" stroke-width="2" stroke-dasharray="6.4 5.63"/>
<text x="1073.7" y="34" font-size="21" text-anchor="start" font-family='"Liberation Sans", sans-serif' fill="#1a1a1a" stroke="#1a1a1a" stroke-width="0.3" >2D-NHM</text>
<text x="1073.7" y="58.5" font-size="21" text-anchor="start" font-family='"Liberation Sans", sans-serif' fill="#1a1a1a" stroke="#1a1a1a" stroke-width="0.3" >Circle</text>
<text x="1213" y="34" font-size="21" text-anchor="start" font-family='"Liberation Sans", sans-serif' fill="#1a1a1a" stroke="#1a1a1a" stroke-width="0.3" >Gaussian distribution</text>
<text x="262.6" y="467.2" font-size="36.4" text-anchor="middle" font-family='"Liberation Serif", serif' fill="#1a1a1a" stroke="#1a1a1a" stroke-width="0.25"><tspan font-weight="bold">(a)</tspan> Uniform distribution</text>
<text x="733.8" y="467.2" font-size="36.4" text-anchor="middle" font-family='"Liberation Serif", serif' fill="#1a1a1a" stroke="#1a1a1a" stroke-width="0.25"><tspan font-weight="bold">(b)</tspan> U-shaped distribution</text>
<text x="1206" y="451" font-size="36.4" text-anchor="middle" font-family='"Liberation Serif", serif' fill="#1a1a1a" stroke="#1a1a1a" stroke-width="0.25"><tspan font-weight="bold">(c)</tspan> Spike and Gaussian-like</text>
<text x="1205.2" y="482.8" font-size="36.4" text-anchor="middle" font-family='"Liberation Serif", serif' fill="#1a1a1a" stroke="#1a1a1a" stroke-width="0.25" >distributions</text>
</svg></body></html>
